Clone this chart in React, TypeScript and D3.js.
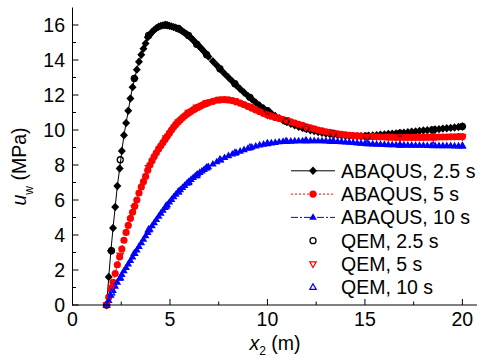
import React from "react";
import * as d3 from "d3";

// ---------- DATA ----------
const X_ABAQUS = [
  1.75, 1.86, 1.97, 2.08, 2.19, 2.3, 2.42, 2.53, 2.64, 2.75,
  2.86, 2.97, 3.08, 3.19, 3.3, 3.41, 3.53, 3.64, 3.75, 3.86,
  3.97, 4.08, 4.19, 4.3, 4.42, 4.53, 4.64, 4.75, 4.86, 4.97,
  5.08, 5.19, 5.3, 5.42, 5.53, 5.64, 5.75, 5.86, 5.97, 6.08,
  6.19, 6.3, 6.42, 6.53, 6.64, 6.75, 6.86, 6.97, 7.2, 7.4,
  7.6, 7.8, 8.0, 8.2, 8.4, 8.6, 8.8, 9.0, 9.2, 9.4,
  9.6, 9.8, 10.0, 10.2, 10.4, 10.6, 10.8, 11.0, 11.2, 11.4,
  11.6, 11.8, 12.0, 12.2, 12.4, 12.6, 12.8, 13.0, 13.2, 13.4,
  13.6, 13.8, 14.0, 14.2, 14.4, 14.6, 14.8, 15.0, 15.2, 15.4,
  15.6, 15.8, 16.0, 16.2, 16.4, 16.6, 16.8, 17.0, 17.2, 17.4,
  17.6, 17.8, 18.0, 18.2, 18.4, 18.6, 18.8, 19.0, 19.2, 19.4,
  19.6, 19.8, 20.0,
];
const Y_ABAQUS_25 = [
  0, 1.6, 3.1, 4.4, 5.6, 6.8, 7.8, 8.8, 9.7, 10.4,
  11.1, 11.8, 12.45, 12.95, 13.45, 13.9, 14.3, 14.65, 14.95, 15.3,
  15.45, 15.6, 15.72, 15.82, 15.9, 15.95, 15.98, 16.0, 15.98, 15.95,
  15.92, 15.88, 15.84, 15.78, 15.72, 15.64, 15.56, 15.48, 15.38, 15.26,
  15.14, 15.0, 14.88, 14.75, 14.62, 14.48, 14.34, 14.2, 13.93, 13.7,
  13.45, 13.22, 13.0, 12.78, 12.56, 12.34, 12.14, 11.95, 11.76, 11.57,
  11.4, 11.24, 11.08, 10.94, 10.8, 10.68, 10.56, 10.45, 10.36, 10.27,
  10.19, 10.12, 10.05, 9.99, 9.94, 9.89, 9.84, 9.8, 9.77, 9.74,
  9.71, 9.69, 9.67, 9.66, 9.65, 9.65, 9.65, 9.66, 9.67, 9.69,
  9.71, 9.73, 9.75, 9.77, 9.79, 9.81, 9.83, 9.85, 9.87, 9.9,
  9.92, 9.95, 9.97, 9.99, 10.01, 10.03, 10.05, 10.08, 10.1, 10.12,
  10.14, 10.17, 10.2,
];
const Y_ABAQUS_5 = [
  0, 0.45, 0.9, 1.3, 1.8, 2.3, 2.75, 3.2, 3.7, 4.15,
  4.55, 4.95, 5.3, 5.65, 6.0, 6.4, 6.75, 7.05, 7.35, 7.7,
  8.0, 8.25, 8.48, 8.7, 8.92, 9.1, 9.28, 9.46, 9.64, 9.82,
  10.0, 10.17, 10.32, 10.46, 10.58, 10.7, 10.8, 10.9, 10.99, 11.07,
  11.15, 11.22, 11.29, 11.35, 11.41, 11.47, 11.52, 11.56, 11.64, 11.7,
  11.73, 11.74, 11.72, 11.68, 11.62, 11.54, 11.45, 11.35, 11.25, 11.15,
  11.05, 10.95, 10.86, 10.79, 10.72, 10.66, 10.6, 10.54, 10.47, 10.4,
  10.33, 10.26, 10.18, 10.12, 10.06, 10.0, 9.95, 9.9, 9.86, 9.82,
  9.78, 9.75, 9.72, 9.7, 9.68, 9.66, 9.65, 9.64, 9.63, 9.62,
  9.61, 9.6, 9.6, 9.59, 9.59, 9.58, 9.58, 9.58, 9.58, 9.58,
  9.58, 9.58, 9.58, 9.59, 9.59, 9.59, 9.6, 9.6, 9.6, 9.61,
  9.61, 9.62, 9.62,
];
const Y_ABAQUS_10 = [
  0, 0.25, 0.55, 0.83, 1.07, 1.3, 1.52, 1.74, 1.95, 2.14,
  2.34, 2.54, 2.74, 2.94, 3.14, 3.34, 3.55, 3.75, 3.95, 4.14,
  4.33, 4.52, 4.7, 4.88, 5.07, 5.24, 5.41, 5.57, 5.73, 5.88,
  6.03, 6.18, 6.32, 6.46, 6.59, 6.71, 6.83, 6.95, 7.06, 7.17,
  7.28, 7.38, 7.48, 7.57, 7.66, 7.74, 7.82, 7.9, 8.05, 8.18,
  8.3, 8.42, 8.53, 8.62, 8.71, 8.79, 8.87, 8.95, 9.02, 9.08,
  9.14, 9.19, 9.23, 9.26, 9.29, 9.32, 9.34, 9.35, 9.36, 9.37,
  9.38, 9.38, 9.39, 9.39, 9.39, 9.38, 9.38, 9.37, 9.36, 9.35,
  9.34, 9.33, 9.31, 9.3, 9.28, 9.26, 9.24, 9.23, 9.21, 9.2,
  9.19, 9.18, 9.17, 9.16, 9.15, 9.15, 9.14, 9.14, 9.13, 9.13,
  9.12, 9.12, 9.12, 9.11, 9.11, 9.11, 9.1, 9.1, 9.1, 9.1,
  9.09, 9.09, 9.09,
];

const X_QEM = [1.75, 2.0, 2.45, 3.17, 3.9, 4.8, 5.43, 5.95, 6.37, 6.88, 7.56, 8.33, 9.1, 10.0, 10.95, 11.97, 13.37, 15.1, 16.8, 18.5, 20.0];
const Y_QEM_25 = [0, 3.1, 8.3, 12.95, 15.4, 16.0, 15.8, 15.4, 14.9, 14.3, 13.5, 12.65, 11.87, 11.1, 10.5, 10.1, 9.78, 9.65, 9.82, 10.0, 10.2];
const Y_QEM_5 = [0, 1.0, 2.85, 5.55, 7.85, 9.55, 10.45, 11.0, 11.3, 11.56, 11.74, 11.65, 11.35, 10.86, 10.57, 10.15, 9.8, 9.62, 9.6, 9.58, 9.62];
const Y_QEM_10 = [0, 0.7, 1.55, 2.95, 4.3, 5.65, 6.47, 7.0, 7.4, 7.85, 8.3, 8.68, 9.0, 9.23, 9.35, 9.39, 9.36, 9.22, 9.14, 9.11, 9.09];

const X_TICKS = [0, 5, 10, 15, 20];
const X_MINOR = [2.5, 7.5, 12.5, 17.5];
const Y_TICKS = [0, 2, 4, 6, 8, 10, 12, 14, 16];
const Y_MINOR = [1, 3, 5, 7, 9, 11, 13, 15];

const LEGEND_LABELS = [
  "ABAQUS, 2.5 s",
  "ABAQUS, 5 s",
  "ABAQUS, 10 s",
  "QEM, 2.5 s",
  "QEM, 5 s",
  "QEM, 10 s",
];

// ---------- LAYOUT ----------
const W = 478;
const H = 358;
const FONT = "'Liberation Sans', Arial, Helvetica, sans-serif";
const FS = 19.5;

const x = d3.scaleLinear().domain([0, 20.75]).range([72.5, 477]);
const y = d3.scaleLinear().domain([0, 17]).range([305, 7.5]);

const diamond = (r: number) => `M0,${-r}L${r * 0.95},0L0,${r}L${-r * 0.95},0Z`;
const triUp = (s: number) => `M0,${-s * 1.1}L${s},${s * 0.65}L${-s},${s * 0.65}Z`;
const triDown = (s: number) => `M0,${s * 1.1}L${s},${-s * 0.65}L${-s},${-s * 0.65}Z`;

type Kind = "diamond" | "dot" | "triUp" | "circleOpen" | "triDownOpen" | "triUpOpen";

function Marker({ kind, cx, cy, color }: { kind: Kind; cx: number; cy: number; color: string }) {
  const t = `translate(${cx},${cy})`;
  switch (kind) {
    case "diamond":
      return <path transform={t} d={diamond(4.2)} fill={color} />;
    case "dot":
      return <circle cx={cx} cy={cy} r={3.6} fill={color} />;
    case "triUp":
      return <path transform={t} d={triUp(3.8)} fill={color} />;
    case "circleOpen":
      return <circle cx={cx} cy={cy} r={3} fill="none" stroke={color} strokeWidth={1.3} />;
    case "triDownOpen":
      return <path transform={t} d={triDown(3.2)} fill="none" stroke={color} strokeWidth={1.2} />;
    case "triUpOpen":
      return <path transform={t} d={triUp(3.2)} fill="none" stroke={color} strokeWidth={1.2} />;
  }
}

const SERIES = [
  { xs: X_ABAQUS, ys: Y_ABAQUS_25, color: "#000000", kind: "diamond" as Kind, dash: "", line: true },
  { xs: X_ABAQUS, ys: Y_ABAQUS_5, color: "#ff0000", kind: "dot" as Kind, dash: "2,2", line: true },
  { xs: X_ABAQUS, ys: Y_ABAQUS_10, color: "#0000ff", kind: "triUp" as Kind, dash: "7,2,2,2", line: true },
  { xs: X_QEM, ys: Y_QEM_25, color: "#000000", kind: "circleOpen" as Kind, dash: "", line: false },
  { xs: X_QEM, ys: Y_QEM_5, color: "#ff0000", kind: "triDownOpen" as Kind, dash: "", line: false },
  { xs: X_QEM, ys: Y_QEM_10, color: "#0000ff", kind: "triUpOpen" as Kind, dash: "", line: false },
];

export default function App() {
  const legendY0 = 170.8;
  const legendDy = 23.3;

  return (
    <svg
      width={W}
      height={H}
      style={{ position: "absolute", left: 0, top: 0, background: "#fff" }}
      fontFamily={FONT}
    >
      <rect width={W} height={H} fill="#fff" />

      {/* data */}
      {SERIES.map((s, si) => {
        const pts: [number, number][] = s.xs.map((xv, i) => [x(xv), y(s.ys[i])]);
        const d = d3.line()(pts) || "";
        return (
          <g key={si}>
            {s.line && (
              <path d={d} fill="none" stroke={s.color} strokeWidth={1} strokeDasharray={s.dash || undefined} />
            )}
            {pts.map((p, i) => (
              <Marker key={i} kind={s.kind} cx={p[0]} cy={p[1]} color={s.color} />
            ))}
          </g>
        );
      })}

      {/* axes */}
      <line x1={72.5} x2={72.5} y1={y(17)} y2={305.5} stroke="#000" strokeWidth={1} />
      <line x1={72} x2={477} y1={305} y2={305} stroke="#000" strokeWidth={1} />
      {Y_TICKS.map((t) => (
        <g key={"yt" + t}>
          <line x1={72.5} x2={78.5} y1={y(t)} y2={y(t)} stroke="#000" strokeWidth={1} />
          <text x={65} y={y(t) + 7} textAnchor="end" fontSize={FS} fill="#000">
            {t}
          </text>
        </g>
      ))}
      {Y_MINOR.map((t) => (
        <line key={"ym" + t} x1={72.5} x2={76} y1={y(t)} y2={y(t)} stroke="#000" strokeWidth={1} />
      ))}
      {X_TICKS.map((t) => (
        <g key={"xt" + t}>
          <line x1={x(t)} x2={x(t)} y1={305} y2={299} stroke="#000" strokeWidth={1} />
          <text x={x(t)} y={325.5} textAnchor="middle" fontSize={FS} fill="#000">
            {t}
          </text>
        </g>
      ))}
      {X_MINOR.map((t) => (
        <line key={"xm" + t} x1={x(t)} x2={x(t)} y1={305} y2={301.5} stroke="#000" strokeWidth={1} />
      ))}

      {/* axis titles */}
      <text x={275} y={350} textAnchor="middle" fontSize={FS} fill="#000">
        <tspan fontStyle="italic">x</tspan>
        <tspan fontSize={12} dy={4.5}>2</tspan>
        <tspan dy={-4.5}> (m)</tspan>
      </text>
      <text
        transform={`translate(25.5,166.5) rotate(-90)`}
        textAnchor="middle"
        fontSize={FS}
        fill="#000"
      >
        <tspan fontStyle="italic">u</tspan>
        <tspan fontSize={12} dy={7}>w</tspan>
        <tspan dy={-7}> (MPa)</tspan>
      </text>

      {/* legend */}
      {SERIES.map((s, i) => {
        const ly = legendY0 + i * legendDy;
        return (
          <g key={"lg" + i}>
            {s.line && (
              <line x1={291} x2={335} y1={ly} y2={ly} stroke={s.color} strokeWidth={1} strokeDasharray={s.dash || undefined} />
            )}
            <Marker kind={s.kind} cx={313} cy={ly} color={s.color} />
            <text x={341} y={ly + 7} fontSize={FS} fill="#000">
              {LEGEND_LABELS[i]}
            </text>
          </g>
        );
      })}
    </svg>
  );
}
